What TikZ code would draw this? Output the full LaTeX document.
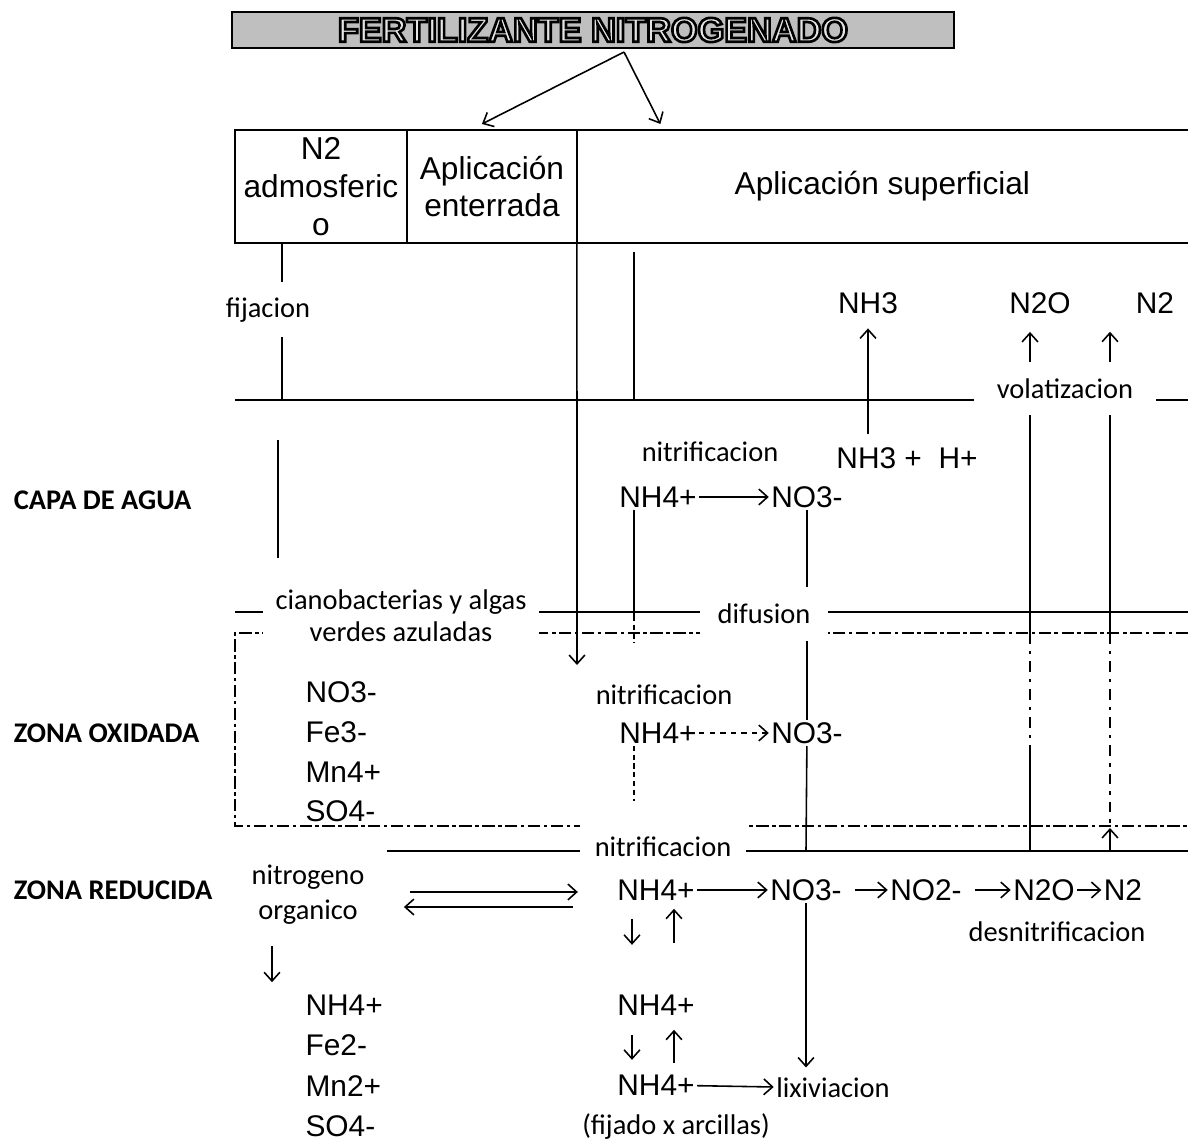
\documentclass[tikz,border=0pt]{standalone}
\usepackage{fontspec}
\setmainfont{Liberation Sans}
\newfontfamily\lblfont{Carlito}
\usetikzlibrary{arrows.meta, positioning}

% letras huecas para el titulo
\newcommand{\hollow}[1]{%
  \special{pdf:code q 2 Tr 1.5 w 0.9 g 0 G}#1\special{pdf:code Q}}

\tikzset{
  chem/.style={font=\fontsize{17}{22.5}\selectfont, inner sep=1pt},
  lbl/.style={font=\lblfont\fontsize{16.2}{18}\selectfont, inner sep=1pt},
  zone/.style={font=\lblfont\bfseries\fontsize{16.2}{19}\selectfont, anchor=west, inner sep=0pt},
  cover/.style={fill=white},
  cell/.style={draw, line width=1.2pt, minimum height=2.26cm, anchor=north west,
    align=center, inner sep=0pt, outer sep=0pt, font=\fontsize{18}{21.5}\selectfont},
  oxline/.style={line width=.8pt, dash pattern=on 7pt off 2pt on 2pt off 2pt},
  oxvert/.style={line width=.8pt, dash pattern=on 6pt off 4pt on 2pt off 4pt},
}

\begin{document}
\begin{tikzpicture}[x=0.02cm, y=-0.02cm, line width=.9pt,
  >={Straight Barb[length=5pt,width=9pt]}]
   \useasboundingbox (0,0) rectangle (1188,1141);

   % fertilizante y tipos de aplicacion
   \node[draw, line width=1.2pt, fill=gray!50, minimum width=14.46cm, minimum height=0.7cm,
     font=\bfseries\fontsize{19.5}{20}\selectfont] (fert) at (593,30) {\hollow{FERTILIZANTE NITROGENADO}};
   \node[cell, minimum width=3.44cm] (atm) at (235,130) {N2\\admosferic\\o};
   \node[cell, minimum width=3.40cm] (ent) at (atm.north east) {Aplicación\\enterrada};
   \node[cell, draw=none, minimum width=12.22cm] (sup) at (ent.north east) {Aplicación superficial};
   \draw[line width=1.2pt] (sup.north west) -- (sup.north east) (sup.south west) -- (sup.south east);
   \coordinate (split) at ([shift={(31,3)}]fert.south);
   \path[->]
    (split) edge ([shift={(-10,-6)}]ent.north)
    (split) edge ([shift={(-222,-6)}]sup.north);

   % zonas
   \node[zone] (agua) at (13,500) {CAPA DE AGUA};
   \node[zone] (oxid) at (13,733) {ZONA OXIDADA};
   \node[zone] (reduc) at (13,890) {ZONA REDUCIDA};

   % capa de agua
   \node[chem] (nh3) at (868,303) {NH3};
   \node[chem] (n2oa) at (1040,303) {N2O};
   \node[chem] (n2a) at (1155,303) {N2};
   \node[lbl] (nitw) at (710,452) {nitrificacion};
   \node[chem] (nh3h) at (907,458) {NH3 +\ \ H+};
   \node[chem] (nh4w) at (658,497) {NH4+};
   \node[chem] (no3w) at (807,497) {NO3-};

   % zona oxidada
   \node[chem, align=left, anchor=west] (oxlist) at (303,752) {NO3-\\Fe3-\\Mn4+\\SO4-};
   \node[lbl] (nito) at (664,695) {nitrificacion};
   \node[chem] (nh4o) at (658,733) {NH4+};
   \node[chem] (no3o) at (807,733) {NO3-};

   % zona reducida
   \node[lbl, align=center, font=\lblfont\fontsize{16.2}{19.8}\selectfont] (orgn) at (308,895) {nitrogeno\\organico};
   \node[chem] (nh4r) at (656,890) {NH4+};
   \node[chem] (no3r) at (806,890) {NO3-};
   \node[chem] (no2r) at (926,890) {NO2-};
   \node[chem] (n2or) at (1044,890) {N2O};
   \node[chem] (n2r) at (1123,890) {N2};
   \node[lbl] (desn) at (1057,932) {desnitrificacion};
   \node[chem, align=left, anchor=west, font=\fontsize{17}{23}\selectfont] (redlist) at (303,1066) {NH4+\\Fe2-\\Mn2+\\SO4-};
   \node[chem] (nh4m) at (656,1005) {NH4+};
   \node[chem] (nh4f) at (656,1085) {NH4+};
   \node[lbl] (lix) at (833,1088) {lixiviacion};
   \node[lbl] (arci) at (676,1127) {(fijado x arcillas)};

   % limites de capas
   \draw (235,400) -- (1188,400);
   \draw (235,612) -- (1188,612);
   \draw[oxline] (1188,633) -- (235,633) -- (235,826) -- (1188,826);
   \draw (387,851) -- (1188,851);

   % lineas verticales
   \draw (282,243) -- (282,400);
   \draw (634,252) -- (634,400);
   \draw (278,440) -- (278,558);
   \draw[->] (ent.south east) -- (577,665);
   \draw ([shift={(-24,0)}]nh4w.south) -- ++(0,106) coordinate (d1);
   \draw[densely dashed] (d1) -- ++(0,27);
   \draw[densely dashed] ([shift={(-24,0)}]nh4o.south) -- ++(0,55);
   \draw (no3w) -- (no3o);
   \draw (no3o) -- (806,851);
   \draw (1030,362) -- (1030,633);
   \draw[oxvert] (1030,633) -- (1030,755);
   \draw (1030,755) -- (1030,851);
   \draw (1110,362) -- (1110,633);
   \draw[oxvert] (1110,633) -- (1110,830);
   \draw[->] (1110,851) -- (1110,828);

   % textos sobre las lineas
   \node[lbl, cover, minimum height=1.1cm] (fij) at (268,310) {fijacion};
   \node[lbl, cover, inner xsep=.46cm, minimum height=1.06cm] (volat) at (1065,389) {volatizacion};
   \node[lbl, cover, inner xsep=.36cm, minimum height=1.1cm] (difu) at (764,614) {difusion};
   \node[lbl, cover, align=center, inner xsep=.26cm, inner ysep=3pt] (ciano) at (401,616) {cianobacterias y algas\\verdes azuladas};
   \node[lbl, cover, inner xsep=.3cm, minimum height=1cm] (nitr) at (663,847) {nitrificacion};

   % flechas
   \path[->]
    (nh4w) edge (no3w)
    (nh3h.north -| nh3) edge[shorten <=6pt, shorten >=7pt] (nh3)
    (volat.north -| 1030,0) edge[shorten >=9pt] (n2oa.south -| 1030,0)
    (volat.north -| 1110,0) edge[shorten >=9pt] (n2a.south -| 1110,0)
    (nh4o) edge[dashed] (no3o)
    (nh4r) edge (no3r)
    (no3r) edge[shorten <=6pt] (no2r)
    (no2r) edge[shorten <=6pt] (n2or)
    (n2or) edge (n2r)
    (nh4f) edge (lix);
   \draw[->] ([shift={(43,-3)}]orgn.east) -- ([shift={(-37,2)}]nh4r.west);
   \draw[->] ([shift={(-42,17)}]nh4r.west) -- ([shift={(37,12)}]orgn.east);
   \draw[->] ([shift={(-36,19)}]orgn.south) -- ++(0,36);
   \draw[->] ([shift={(-24,16)}]nh4r.south) -- ++(0,26);
   \draw[->] ([shift={(18,40)}]nh4r.south) -- ++(0,-34);
   \draw[->] ([shift={(-24,17)}]nh4m.south) -- ++(0,25);
   \draw[->] ([shift={(18,45)}]nh4m.south) -- ++(0,-33);
   \draw[->] (no3r) -- ([shift={(-27,-8)}]lix.north);
\end{tikzpicture}
\end{document}
